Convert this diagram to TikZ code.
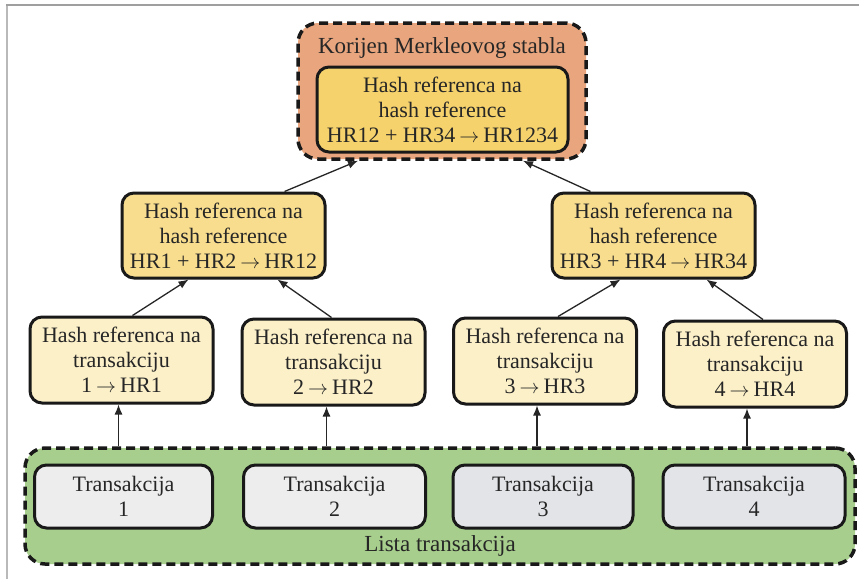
\documentclass[tikz,border=0pt]{standalone}
\usepackage{fontspec}
\usepackage{graphicx}
\setmainfont{Liberation Serif}
\usetikzlibrary{arrows.meta,calc}
\definecolor{salmon}{HTML}{E9A67E}
\definecolor{rootfill}{HTML}{F5D26C}
\definecolor{midfill}{HTML}{F8DD8E}
\definecolor{leaffill}{HTML}{FCF0C9}
\definecolor{greenfill}{HTML}{A7CE8C}
\definecolor{tfillA}{HTML}{EDEDEE}
\definecolor{tfillB}{HTML}{E3E4E8}
\newcommand{\ra}{\hspace{4pt}\resizebox{20pt}{!}{$\rightarrow$}\hspace{4pt}}
\tikzset{
  box/.style={draw=black!90, line width=3pt, rounded corners=12pt, align=center,
    inner sep=0pt, font=\fontsize{22}{25}\selectfont, text=black!85},
  group/.style={draw=black!90, line width=3.5pt, dash pattern=on 9pt off 5pt,
    rounded corners=20pt, inner sep=0pt},
  conn/.style={line width=1.3pt, black!85, -{Latex[length=10pt,width=8pt]}},
  lbl/.style={font=\fontsize{23}{25}\selectfont, text=black!85, inner sep=0pt}
}
\begin{document}
\begin{tikzpicture}[x=1pt,y=-1pt]
\useasboundingbox (0,0) rectangle (859,579);
\fill[white] (0,0) rectangle (859,579);
\draw[gray!55, line width=2pt] (7,579) -- (7,5);
\draw[gray!75, line width=2pt] (6,5) -- (859,5);

% root group
\node[group, fill=salmon, minimum width=288pt, minimum height=136pt] (rootgrp) at (442,91) {};
\node[lbl] (roottitle) at (442,48) {Korijen Merkleovog stabla};
\node[box, fill=rootfill, minimum width=251pt, minimum height=85pt] (root) at (442.5,109.5)
  {Hash referenca na\\hash reference\\HR12 + HR34\ra HR1234};

% middle
\node[box, fill=midfill, minimum width=203pt, minimum height=85pt] (m1) at (223.5,235.5)
  {Hash referenca na\\hash reference\\HR1 + HR2\ra HR12};
\node[box, fill=midfill, minimum width=203pt, minimum height=85pt] (m2) at (653.5,235.5)
  {Hash referenca na\\hash reference\\HR3 + HR4\ra HR34};

% leaves
\node[box, fill=leaffill, minimum width=183pt, minimum height=86pt] (l1) at (121.5,360) {Hash referenca na\\transakciju\\1\ra HR1};
\node[box, fill=leaffill, minimum width=183pt, minimum height=86pt] (l2) at (333.5,362) {Hash referenca na\\transakciju\\2\ra HR2};
\node[box, fill=leaffill, minimum width=183pt, minimum height=86pt] (l3) at (545,361) {Hash referenca na\\transakciju\\3\ra HR3};
\node[box, fill=leaffill, minimum width=183pt, minimum height=86pt] (l4) at (755,364) {Hash referenca na\\transakciju\\4\ra HR4};

% transaction list
\node[group, fill=greenfill, minimum width=830pt, minimum height=116pt] (list) at (440,506) {};
\node[box, fill=tfillA, minimum width=178pt, minimum height=63pt] (t1) at (123.5,496.5) {Transakcija\\1};
\node[box, fill=tfillA, minimum width=182pt, minimum height=63pt] (t2) at (334.5,496.5) {Transakcija\\2};
\node[box, fill=tfillB, minimum width=180pt, minimum height=63pt] (t3) at (543,496.5) {Transakcija\\3};
\node[box, fill=tfillB, minimum width=182pt, minimum height=63pt] (t4) at (754,496.5) {Transakcija\\4};
\node[lbl] (listlbl) at (440,546) {Lista transakcija};

% connectors
\draw[conn] ($(t1.north)+(-5,-18)$) coordinate (s1) -- (s1 |- l1.south);
\draw[conn] ($(t2.north)+(-8,-18)$) coordinate (s2) -- (s2 |- l2.south);
\draw[conn] ($(t3.north)+(-6,-18)$) coordinate (s3) -- (s3 |- l3.south);
\draw[conn] ($(t4.north)+(-7,-18)$) coordinate (s4) -- (s4 |- l4.south);

\draw[conn] ($(l1.north)+(11,0)$) -- ($(m1.south)+(-35,0)$);
\draw[conn] ($(l2.north)+(-2,0)$) -- ($(m1.south)+(54,0)$);
\draw[conn] ($(l3.north)+(13,0)$) -- ($(m2.south)+(-33,0)$);
\draw[conn] ($(l4.north)+(8,0)$) -- ($(m2.south)+(53,0)$);

\draw[conn] ($(m1.north)+(61,0)$) -- ($(rootgrp.south)+(-84,0)$);
\draw[conn] ($(m2.north)+(-63,0)$) -- ($(rootgrp.south)+(81,0)$);
\end{tikzpicture}
\end{document}
